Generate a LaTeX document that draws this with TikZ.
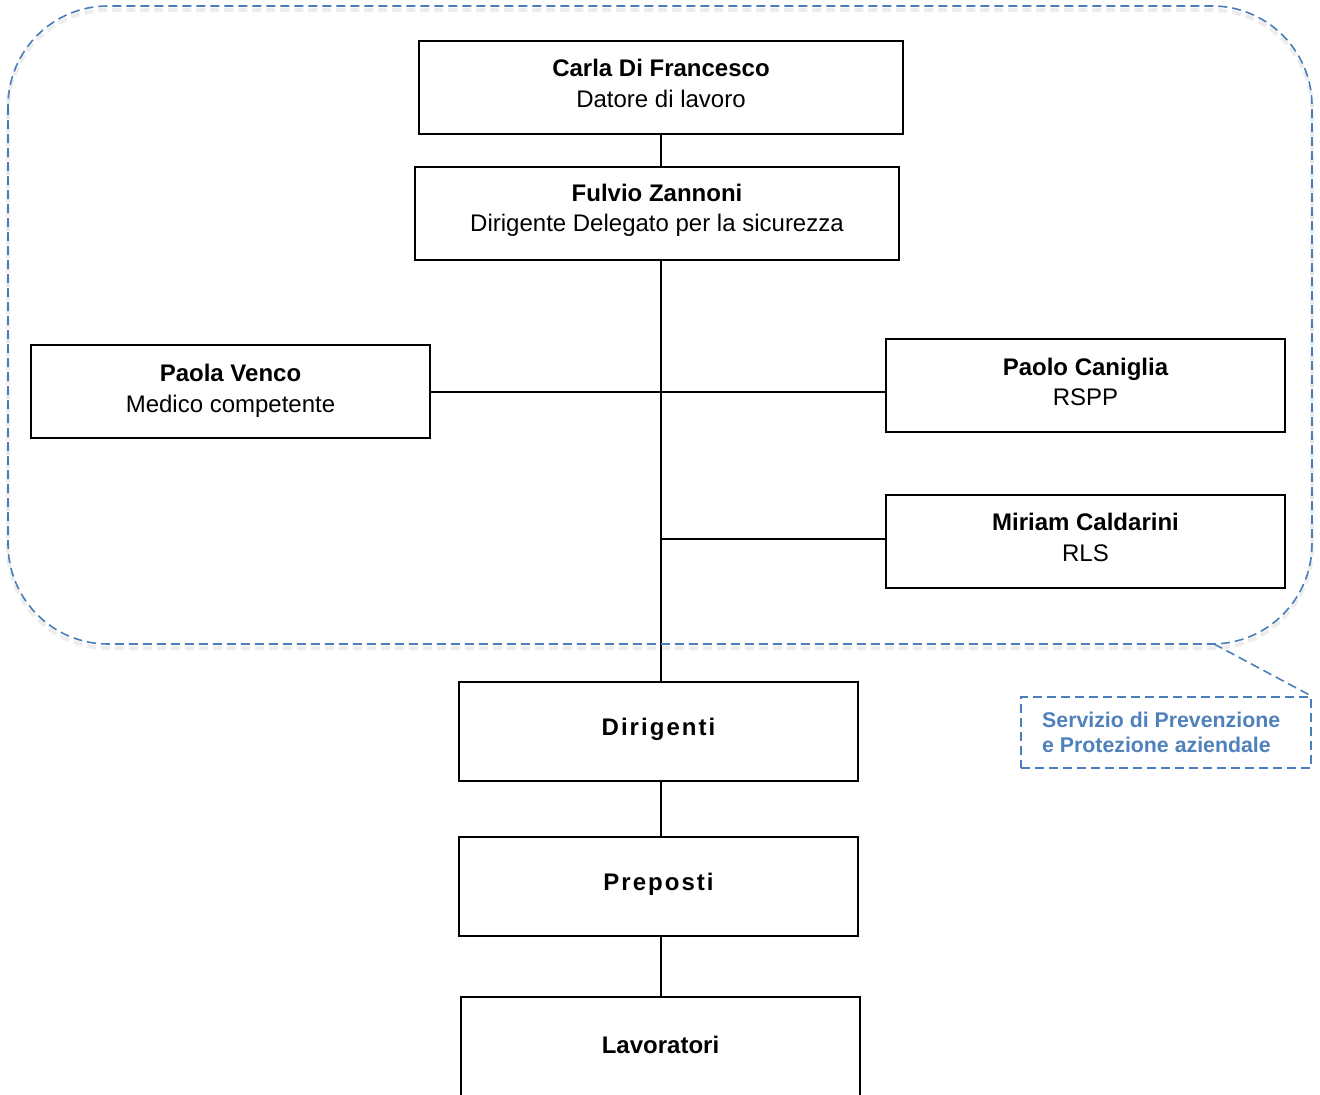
\documentclass[tikz,border=0pt]{standalone}
\usepackage{fontspec}
\setmainfont{Liberation Sans}
\newfontfamily\spacedfont[LetterSpace=8.5]{Liberation Sans}
\definecolor{sppblue}{RGB}{74,126,187}
\definecolor{spptext}{RGB}{79,129,189}
\begin{document}
\begin{tikzpicture}[x=1pt,y=-1pt,
  box/.style={draw=black, line width=1.6pt, minimum width=399pt, minimum height=93pt, inner sep=0pt},
  txt/.style={align=center, font=\fontsize{24}{30.5}\selectfont, inner sep=0pt},
  conn/.style={line width=1.6pt, black},
  sppdash/.style={draw=sppblue, line width=1.6pt, dash pattern=on 9pt off 5pt},
  sppshadow/.style={draw=black, opacity=0.07, line width=4pt, dash pattern=on 9pt off 5pt}]
\useasboundingbox (0,0) rectangle (1320,1095);
\fill[white] (0,0) rectangle (1320,1095);
% boxes
\node[box, minimum width=484pt] (carla) at (661,87.5) {};
\node[txt] (carlaT) at (661,83.5) {\textbf{Carla Di Francesco}\\Datore di lavoro};
\node[box, minimum width=484pt] (fulvio) at (657,213.5) {};
\node[txt] (fulvioT) at (657,210.5) {\textbf{Fulvio Zannoni}\\Dirigente Delegato per la sicurezza};
\node[box] (venco) at (230.5,391.5) {};
\node[txt] (vencoT) at (230.5,391) {\textbf{Paola Venco}\\Medico competente};
\node[box] (caniglia) at (1085.5,385.5) {};
\node[txt] (canigliaT) at (1085.5,382) {\textbf{Paolo Caniglia}\\RSPP};
\node[box] (miriam) at (1085.5,541.5) {};
\node[txt] (miriamT) at (1085.5,537.5) {\textbf{Miriam Caldarini}\\RLS};
\node[box, minimum height=99pt] (dir) at (658.5,731.5) {};
\node[txt] (dirT) at (658.5,729.5) {\spacedfont\bfseries Dirigenti};
\node[box, minimum height=99pt] (prep) at (658.5,886.5) {};
\node[txt] (prepT) at (658.5,884.5) {\spacedfont\bfseries Preposti};
\node[box, minimum height=99pt] (lav) at (660.5,1046.5) {};
\node[txt] (lavT) at (660.5,1044.5) {\bfseries Lavoratori};
% connectors
\coordinate (sp) at (carla.south |- fulvio.south);
\coordinate (hl) at ([yshift=-0.5pt]venco.east);
\draw[conn] (carla.south) -- (carla.south |- fulvio.north);
\draw[conn] (sp) -- (sp |- dir.north);
\draw[conn] (hl) -- (hl -| sp);
\draw[conn, line width=2.3pt] (hl -| sp) -- (hl -| caniglia.west);
\draw[conn] ([yshift=2.5pt]miriam.west -| sp) -- ([yshift=2.5pt]miriam.west);
\draw[conn] (dir.south -| sp) -- (prep.north -| sp);
\draw[conn] (prep.south -| sp) -- (lav.north -| sp);
% callout region
\coordinate (tailbase) at (1214,644);
\node[sppdash, minimum width=290pt, minimum height=71pt, inner sep=0pt] (spp) at (1166,732.5) {};
\draw[sppshadow, rounded corners=100pt] (8,10) rectangle (1312,648);
\draw[sppdash, rounded corners=100pt] (8,6) rectangle (1312,644);
\draw[sppdash] (tailbase) -- (spp.north east);
\node[anchor=west, align=left, font=\bfseries\fontsize{21.3}{25}\selectfont, text=spptext, inner sep=0pt] (sppT) at (1042,732.5) {Servizio di Prevenzione\\e Protezione aziendale};
\end{tikzpicture}
\end{document}
